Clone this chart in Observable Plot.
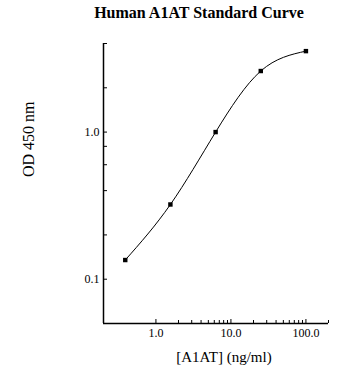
<!DOCTYPE html>
<html>
<head>
<meta charset="utf-8">
<script src="https://cdn.jsdelivr.net/npm/d3@7"></script>
<script src="https://cdn.jsdelivr.net/npm/@observablehq/plot@0.6"></script>
<style>
  html, body { margin: 0; padding: 0; background: #fff; }
  #wrap { width: 355px; }
  #title {
    width: 355px; height: 25px; line-height: 25px; box-sizing: border-box;
    padding-left: 43px; text-align: center;
    font-family: "Liberation Serif", serif; font-weight: bold; font-size: 16px; color: #000;
    white-space: nowrap;
  }
  svg { display: block; }
  #chart svg text { font-family: "Liberation Serif", "Times New Roman", serif; }
</style>
</head>
<body>
<div id="wrap">
  <div id="title">Human A1AT Standard Curve</div>
  <div id="chart"></div>
</div>
<script>
// Data
const concentration = [0.39, 1.56, 6.25, 25, 100];   // [A1AT] (ng/ml)
const od450 = [0.135, 0.322, 1.0, 2.6, 3.55];          // OD 450 nm

// Axis ticks
const xLabelTicks = [1, 10, 100];
const xMinorTicks = [2, 3, 4, 5, 6, 7, 8, 9, 20, 30, 40, 50, 60, 70, 80, 90, 200];
const yLabelTicks = [0.1, 1];
const yAllTicks = [0.1, 0.2, 0.4, 0.6, 0.8, 1, 2, 4];
const xDomain = [0.2, 200];
const yDomain = [0.05, 4];

const xTitle = "[A1AT] (ng/ml)";
const yTitle = "OD 450 nm";

const points = concentration.map((c, i) => ({c, od: od450[i]}));

const W = 355, H = 343;
const mL = 103, mR = 27, mT = 18, mB = 45;
const frameW = W - mL - mR, frameH = H - mT - mB;
const font = "Liberation Serif, Times New Roman, serif";

const chart = Plot.plot({
  width: W,
  height: H,
  marginLeft: mL,
  marginRight: mR,
  marginTop: mT,
  marginBottom: mB,
  style: {fontFamily: font, fontSize: "12px", color: "#000", background: "#fff"},
  x: {type: "log", domain: xDomain},
  y: {type: "log", domain: yDomain},
  marks: [
    // axis lines
    Plot.ruleX([xDomain[0]], {stroke: "#000", strokeWidth: 1.5}),
    Plot.ruleY([yDomain[0]], {stroke: "#000", strokeWidth: 1.5}),
    // inward ticks
    Plot.tickX(xLabelTicks, {x: d => d, insetTop: frameH - 4, stroke: "#000"}),
    Plot.tickX(xMinorTicks, {x: d => d, insetTop: frameH - 3, stroke: "#000"}),
    Plot.tickY(yAllTicks, {y: d => d, insetRight: frameW - 4, stroke: "#000"}),
    // tick labels
    Plot.axisX({ticks: xLabelTicks, tickFormat: d3.format(".1f"), tickSize: 0, tickPadding: 5, label: null, fontSize: 12, fontFamily: font, fill: "#000"}),
    Plot.axisY({ticks: yLabelTicks, tickFormat: d3.format(".1f"), tickSize: 0, tickPadding: 4, label: null, fontSize: 12, fontFamily: font, fill: "#000"}),
    // axis titles
    Plot.text([xTitle], {frameAnchor: "bottom", text: d => d, lineAnchor: "bottom", dx: 8, dy: 38.5, fontSize: 15, fontFamily: font, fill: "#000"}),
    Plot.text([yTitle], {frameAnchor: "left", text: d => d, rotate: -90, lineAnchor: "bottom", dx: -69.5, dy: -6.5, fontSize: 16, fontFamily: font, fill: "#000"}),
    // curve and points
    Plot.line(points, {x: "c", y: "od", curve: "natural", stroke: "#000", strokeWidth: 1}),
    Plot.dot(points, {x: "c", y: "od", symbol: "square", r: 2.5, fill: "#000", stroke: "none"})
  ]
});
document.getElementById("chart").appendChild(chart);
</script>
</body>
</html>
